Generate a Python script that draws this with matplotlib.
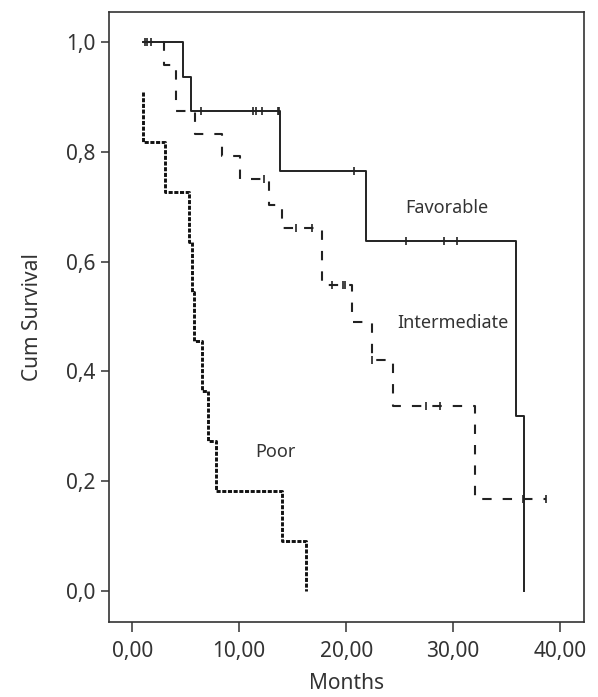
import matplotlib
matplotlib.use("Agg")
import matplotlib.pyplot as plt

plt.rcParams['font.family'] = ['Noto Sans', 'DejaVu Sans']

# Kaplan-Meier step data (months, cumulative survival)
fav_t = [1.03, 4.77, 5.46, 13.82, 21.86, 35.87, 36.64]
fav_s = [1.0, 0.9375, 0.875, 0.766, 0.638, 0.319, 0.0]
fav_cens_t = [1.19, 1.40, 1.72, 6.43, 11.26, 11.54, 12.16, 13.62, 13.75, 20.74, 25.6, 29.16, 30.4]
fav_cens_s = [1.0, 1.0, 1.0, 0.875, 0.875, 0.875, 0.875, 0.875, 0.875, 0.766, 0.638, 0.638, 0.638]

int_t = [1.03, 2.99, 4.06, 5.87, 8.42, 10.07, 12.82, 13.98, 17.72, 20.52, 22.4, 24.36, 32.06, 38.67]
int_s = [1.0, 0.958, 0.875, 0.833, 0.792, 0.75, 0.704, 0.661, 0.557, 0.490, 0.421, 0.337, 0.168, 0.168]
int_cens_t = [12.35, 15.31, 16.78, 18.7, 19.7, 19.9, 22.4, 27.47, 28.78, 36.52, 38.67]
int_cens_s = [0.75, 0.661, 0.661, 0.557, 0.557, 0.557, 0.421, 0.337, 0.337, 0.168, 0.168]

poor_t = [1.03, 1.03, 3.06, 5.33, 5.56, 5.80, 6.49, 7.11, 7.80, 14.03, 16.25]
poor_s = [0.909, 0.818, 0.727, 0.636, 0.545, 0.4545, 0.364, 0.273, 0.182, 0.091, 0.0]

x_ticks = [0, 10, 20, 30, 40]
x_labels = ["0,00", "10,00", "20,00", "30,00", "40,00"]
y_ticks = [0.0, 0.2, 0.4, 0.6, 0.8, 1.0]
y_labels = ["0,0", "0,2", "0,4", "0,6", "0,8", "1,0"]

ink = "#222222"
txt = "#333333"

fig = plt.figure(figsize=(5.98, 6.97), dpi=100)
ax = fig.add_axes([0.1823, 0.108, 0.7943, 0.8752])

ax.plot(fav_t, fav_s, drawstyle="steps-post", color=ink, linewidth=1.4)
ax.plot(fav_cens_t, fav_cens_s, linestyle="none", marker="|", markersize=6,
        markeredgewidth=1.2, color=ink)

ax.plot(int_t, int_s, drawstyle="steps-post", color=ink, linewidth=1.5,
        linestyle=(0, (4.5, 5.3)))
ax.plot(int_cens_t, int_cens_s, linestyle="none", marker="|", markersize=6,
        markeredgewidth=1.2, color=ink)

ax.plot(poor_t, poor_s, drawstyle="steps-post", color="#111111", linewidth=2.1,
        linestyle=(0, (1.4, 0.55)))

ax.text(25.5, 0.697, "Favorable", fontsize=13, color=txt, va="center", ha="left")
ax.text(24.8, 0.488, "Intermediate", fontsize=13, color=txt, va="center", ha="left")
ax.text(11.48, 0.2535, "Poor", fontsize=13, color=txt, va="center", ha="left")

ax.set_xlim(-2.18, 42.25)
ax.set_ylim(-0.0565, 1.0558)
ax.set_xticks(x_ticks)
ax.set_xticklabels(x_labels)
ax.set_yticks(y_ticks)
ax.set_yticklabels(y_labels)

ax.tick_params(axis="x", length=7, width=1.1, colors=txt, labelsize=15, pad=7)
ax.tick_params(axis="y", length=6, width=1.1, colors=txt, labelsize=15, pad=4)
for sp in ax.spines.values():
    sp.set_color("#333333")
    sp.set_linewidth(1.2)

ax.set_xlabel("Months", fontsize=15, color=txt, labelpad=8)
ax.set_ylabel("Cum Survival", fontsize=15, color=txt, labelpad=16)

fig.savefig("out.png", dpi=100, facecolor="white")
